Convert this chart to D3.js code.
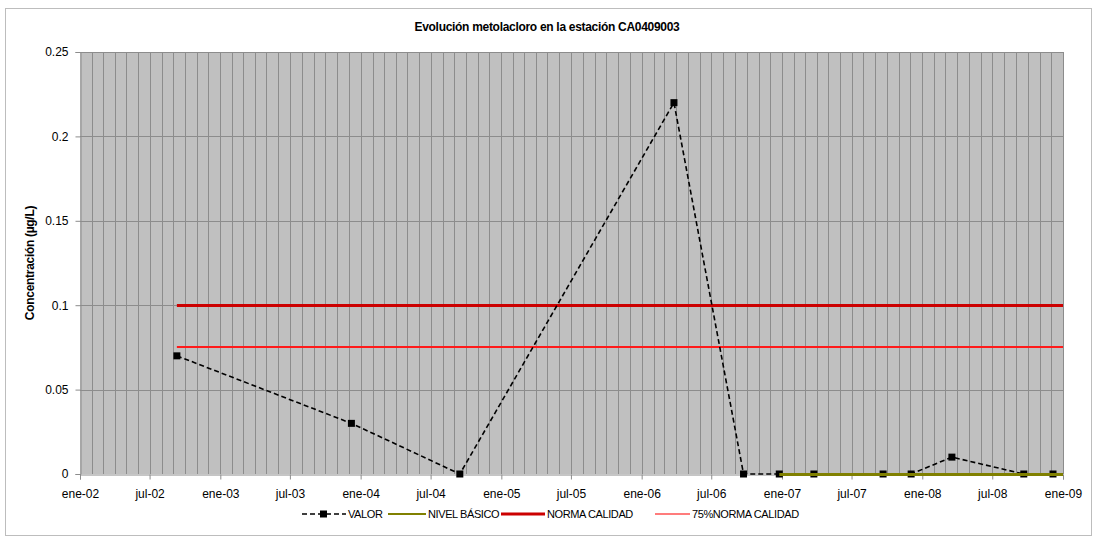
<!DOCTYPE html>
<meta charset="utf-8">
<title>Evolución metolacloro</title>
<style>
    body { margin: 0; background: #fff; font-family: "Liberation Sans", Arial, sans-serif; }
    svg text { fill: #000; }
</style>
<body>
<script src="https://cdn.jsdelivr.net/npm/d3@7/dist/d3.min.js"></script>
<script>

    // fechas de muestreo y concentraciones medidas
    var fechas = ["2002-09-10", "2003-12-08", "2004-09-15", "2006-03-26", "2006-09-23", "2006-12-25",
                  "2007-03-25", "2007-09-21", "2007-12-03", "2008-03-18", "2008-09-21", "2008-12-06"];
    var valores = [0.07, 0.03, 0, 0.22, 0, 0, 0, 0, 0, 0.01, 0, 0];

    var nivelBasicoFechas = ["2006-12-25", "2009-01-01"];
    var nivelBasico = [0, 0];
    var normaFechas = ["2002-09-10", "2009-01-01"];
    var normaCalidad = [0.1, 0.1];
    var norma75 = [0.075, 0.075];

    var yTicks = [0, 0.05, 0.1, 0.15, 0.2, 0.25];
    var meses = ["ene", "feb", "mar", "abr", "may", "jun", "jul", "ago", "sep", "oct", "nov", "dic"];

    var width = 1095, height = 539;
    var margin = { left: 80, right: 32, top: 52, bottom: 65 };
    var parse = d3.utcParse("%Y-%m-%d");

    var svg = d3.select("body").append("svg")
        .attr("width", width)
        .attr("height", height);

    // borde del gráfico
    svg.append("rect")
        .attr("x", 5.5).attr("y", 8.5)
        .attr("width", 1086).attr("height", 527)
        .attr("fill", "none").attr("stroke", "#bdbdbd");

    var x = d3.scaleUtc()
        .domain([parse("2002-01-01"), parse("2009-01-01")])
        .range([margin.left, width - margin.right]);

    var y = d3.scaleLinear()
        .domain([0, 0.25])
        .range([height - margin.bottom, margin.top]);

    // fondo gris
    svg.append("rect")
        .attr("x", x.range()[0]).attr("y", y(0.25))
        .attr("width", x.range()[1] - x.range()[0])
        .attr("height", y(0) - y(0.25))
        .attr("fill", "#c0c0c0");

    // rejilla mensual
    svg.append("g").selectAll("line")
        .data(d3.utcMonth.range(parse("2002-02-01"), parse("2009-01-02")))
        .enter().append("line")
        .attr("x1", function(d) { return Math.round(x(d)) + 0.5; })
        .attr("x2", function(d) { return Math.round(x(d)) + 0.5; })
        .attr("y1", y(0.25)).attr("y2", y(0))
        .attr("stroke", "#8c8c8c");

    svg.append("g").selectAll("line")
        .data(yTicks.slice(1))
        .enter().append("line")
        .attr("x1", x.range()[0]).attr("x2", x.range()[1])
        .attr("y1", function(d) { return Math.round(y(d)) + 0.5; })
        .attr("y2", function(d) { return Math.round(y(d)) + 0.5; })
        .attr("stroke", "#8c8c8c");

    // ejes
    var fmt = function(d) { return meses[d.getUTCMonth()] + "-" + d3.utcFormat("%y")(d); };
    var xAxis = svg.append("g")
        .attr("transform", "translate(0," + (Math.round(y(0)) + 0.5) + ")")
        .call(d3.axisBottom(x).tickValues(d3.utcMonth.every(6).range(parse("2002-01-01"), parse("2009-01-02")))
            .tickFormat(fmt).tickSize(5).tickPadding(10));
    xAxis.select(".domain").attr("stroke", "#8c8c8c");
    xAxis.selectAll(".tick line").attr("stroke", "#8c8c8c");
    xAxis.selectAll("text").attr("font-size", 12).attr("font-family", "Liberation Sans, Arial");

    var yAxis = svg.append("g")
        .attr("transform", "translate(" + (margin.left + 0.5) + ",0)")
        .call(d3.axisLeft(y).tickValues(yTicks).tickFormat(d3.format("")).tickSize(5).tickPadding(7));
    yAxis.select(".domain").attr("stroke", "#8c8c8c");
    yAxis.selectAll(".tick line").attr("stroke", "#8c8c8c");
    yAxis.selectAll("text").attr("font-size", 12).attr("font-family", "Liberation Sans, Arial");

    var line = d3.line()
        .x(function(d) { return x(d[0]); })
        .y(function(d) { return Math.round(y(d[1])) + 0.5; });

    var lineaPar = d3.line()
        .x(function(d) { return x(d[0]); })
        .y(function(d) { return Math.round(y(d[1])); });

    function pares(fs, vs) { return fs.map(function(f, i) { return [parse(f), vs[i]]; }); }

    svg.append("path")
        .attr("d", lineaPar(pares(normaFechas, norma75)))
        .attr("fill", "none").attr("stroke", "#ff1a1a").attr("stroke-width", 2);

    svg.append("path")
        .attr("d", line(pares(normaFechas, normaCalidad)))
        .attr("fill", "none").attr("stroke", "#cc0000").attr("stroke-width", 3);

    var datos = pares(fechas, valores);
    var lineaValor = d3.line()
        .x(function(d) { return x(d[0]); })
        .y(function(d) { return y(d[1]); });
    svg.append("path")
        .attr("d", lineaValor(datos))
        .attr("fill", "none").attr("stroke", "#000")
        .attr("stroke-width", 1.6).attr("stroke-dasharray", "5,3");

    svg.append("g").selectAll("rect")
        .data(datos)
        .enter().append("rect")
        .attr("x", function(d) { return x(d[0]) - 3.5; })
        .attr("y", function(d) { return y(d[1]) - 3.5; })
        .attr("width", 7).attr("height", 7)
        .attr("fill", "#000");

    svg.append("path")
        .attr("d", line(pares(nivelBasicoFechas, nivelBasico)))
        .attr("fill", "none").attr("stroke", "#808000").attr("stroke-width", 3);

    // título
    svg.append("text")
        .attr("x", 547).attr("y", 31)
        .attr("text-anchor", "middle")
        .attr("font-size", 12).attr("font-weight", "bold")
        .attr("letter-spacing", -0.3)
        .text("Evolución metolacloro en la estación CA0409003");

    svg.append("text")
        .attr("transform", "translate(34," + ((y(0) + y(0.25)) / 2) + ") rotate(-90)")
        .attr("text-anchor", "middle")
        .attr("font-size", 12).attr("font-weight", "bold")
        .attr("letter-spacing", -0.3)
        .text("Concentración (µg/L)");

    // leyenda
    var ly = 514;
    var ley = svg.append("g").attr("font-size", 11).attr("letter-spacing", -0.4);

    ley.append("line").attr("x1", 302).attr("x2", 346).attr("y1", ly).attr("y2", ly)
        .attr("stroke", "#000").attr("stroke-width", 1.6).attr("stroke-dasharray", "5,3");
    ley.append("rect").attr("x", 320).attr("y", ly - 3.5).attr("width", 7).attr("height", 7).attr("fill", "#000");
    ley.append("text").attr("x", 348).attr("y", ly + 4).text("VALOR");

    ley.append("line").attr("x1", 388).attr("x2", 426).attr("y1", ly).attr("y2", ly)
        .attr("stroke", "#808000").attr("stroke-width", 2);
    ley.append("text").attr("x", 428).attr("y", ly + 4).text("NIVEL BÁSICO");

    ley.append("line").attr("x1", 501).attr("x2", 545).attr("y1", ly).attr("y2", ly)
        .attr("stroke", "#cc0000").attr("stroke-width", 3);
    ley.append("text").attr("x", 547).attr("y", ly + 4).text("NORMA CALIDAD");

    ley.append("line").attr("x1", 655).attr("x2", 690).attr("y1", ly).attr("y2", ly)
        .attr("stroke", "#ff5050").attr("stroke-width", 1.5);
    ley.append("text").attr("x", 692).attr("y", ly + 4).text("75%NORMA CALIDAD");

</script>
</body>
